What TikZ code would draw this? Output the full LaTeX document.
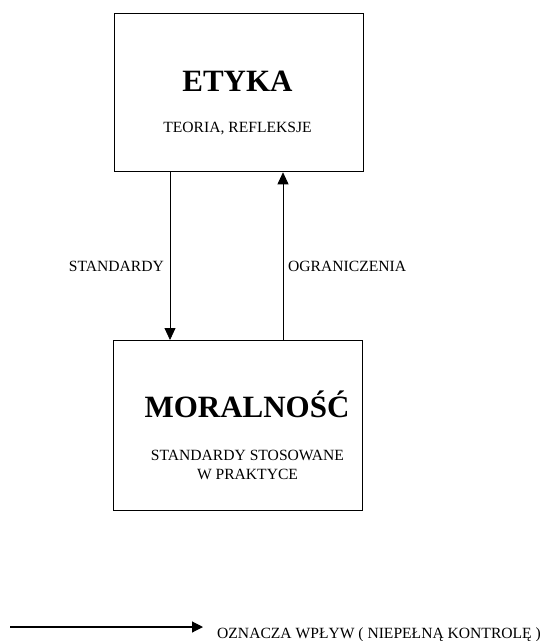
\documentclass[tikz,border=0pt]{standalone}
\usepackage{fontspec}
\setmainfont{Liberation Serif}
\usetikzlibrary{arrows.meta}
\begin{document}
\begin{tikzpicture}[x=1pt,y=-1pt,
  box/.style={draw, line width=1.3pt, minimum width=249pt, minimum height=158pt, inner sep=0pt, anchor=north west},
  title/.style={font=\fontsize{31}{36}\selectfont\bfseries, inner sep=0pt, anchor=base},
  txt/.style={font=\fontsize{15.6}{19}\selectfont, inner sep=0pt},
  flow/.style={line width=0.8pt, -{Triangle[length=12pt,width=11pt]}}
]
\useasboundingbox (0,0) rectangle (544,641);
\node[box] (etyka) at (114,13) {};
\node[box, minimum height=170pt] (moral) at (113,340) {};
\node[title] (t1) at (237.5,91) {ETYKA};
\node[txt, anchor=base] (s1) at (237.5,132.5) {TEORIA, REFLEKSJE};
\node[title] (t2) at (247,417) {MORALNOŚĆ};
\node[txt, anchor=base] (s2) at (247.5,460) {STANDARDY STOSOWANE};
\node[txt, anchor=base] (s3) at (247.5,479) {W PRAKTYCE};
\coordinate (a1) at (170,0);
\coordinate (a2) at (283,0);
\draw[flow] (etyka.south -| a1) -- (moral.north -| a1);
\draw[flow] (moral.north -| a2) -- (etyka.south -| a2);
\node[txt, anchor=base east] (l1) at (164,271) {STANDARDY};
\node[txt, anchor=base west] (l2) at (288,271) {OGRANICZENIA};
\coordinate (g1) at (10,627);
\coordinate (g2) at (203,627);
\draw[line width=1.1pt, -{Triangle[length=11pt,width=11pt]}] (g1) -- (g2);
\node[txt, anchor=base west] (leg) at (217,638) {OZNACZA WPŁYW ( NIEPEŁNĄ KONTROLĘ )};
\end{tikzpicture}
\end{document}
